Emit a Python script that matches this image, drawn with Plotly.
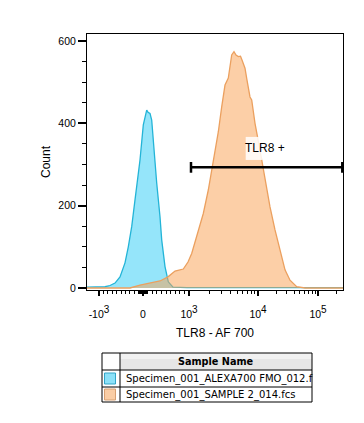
import numpy as np
import plotly.graph_objects as go

# ---------------- data (x in display channels 0..256 of the biexponential axis) ----------------
fmo_x = [0, 10, 18, 23, 28, 33, 38, 41.3, 44.7, 48, 53, 56.3, 59.7, 61, 63, 64.7, 66.3, 69.7, 73, 74.7, 78, 81.3, 86, 100, 256]
fmo_y = [2, 2, 3, 6, 12, 27, 61, 100, 149, 214, 311, 396, 432, 427, 424, 408, 352, 255, 173, 117, 52, 15, 2, 1, 1]

smp_x = [0, 43, 53, 63, 73, 81, 88, 96.3, 101, 104.7, 109.7, 116.3, 121.3, 126.3, 131.3, 134.7, 138, 141.3,
         143, 144.7, 147, 149, 151.3, 153.5, 155, 158, 160, 161.3, 163, 164.7, 168, 173, 178, 183, 188,
         193, 198, 203, 209.7, 218, 256]
smp_y = [0, 0, 7, 12, 17, 27, 41, 46, 63, 84, 125, 181, 238, 311, 379, 440, 493, 510,
         546, 566, 574, 566, 562, 563, 554, 534, 505, 485, 464, 457, 400, 335, 262, 197, 141,
         92, 44, 19, 3, 0, 0]

sample_names = ["Specimen_001_ALEXA700 FMO_012.f", "Specimen_001_SAMPLE 2_014.fcs"]
major_vals = [-1e3, 0, 1e3, 1e4, 1e5]
major_base = ["-10", "0", "10", "10", "10"]
major_exp = ["3", "", "3", "4", "5"]
minor_vals = ([-900 + 100 * i for i in range(9)] + [-80, -60, -40, -20, 20, 40, 60, 80]
              + [100 * i for i in range(1, 10)] + [1e3 * i for i in range(2, 10)]
              + [1e4 * i for i in range(2, 10)] + [2e5])
y_major = [0, 200, 400, 600]
gate_name = "TLR8 +"
gate_count = 293
gate_start = 104  # channel


def to_channel(v):
    """Biexponential-like display transform (value -> channel)."""
    v = float(v)
    if v < 0 and v >= -1000:
        return 56 + v / 1000 * 44
    if 0 <= v <= 1000:
        return 56 + v / 1000 * 46
    if v < -1000:
        return 12 - 60 * np.log10(-v / 1000)
    if v <= 1e4:
        return 102 + 69 * np.log10(v / 1e3)
    return 171 + 60 * np.log10(v / 1e4)


def tick_label(b, e):
    if not e:
        return b
    return b + "<sup><span style='font-size:10px'>" + e + "</span></sup>"


fig = go.Figure()
fig.add_trace(go.Scatter(x=fmo_x, y=fmo_y, mode="lines", fill="tozeroy",
                         line=dict(color="rgb(35,180,215)", width=1.3),
                         fillcolor="rgba(30,200,245,0.47)", name=sample_names[0]))
fig.add_trace(go.Scatter(x=smp_x, y=smp_y, mode="lines", fill="tozeroy",
                         line=dict(color="rgb(235,160,95)", width=1.3),
                         fillcolor="rgba(250,160,80,0.5)", name=sample_names[1]))

# page body has an 8px margin: size the figure so the plot area lands on page px 87..343 x 34..290
OFF = 8
PL, PR, PT, PB = 87, 343, 34, 290
W, H = 364 - OFF, 423 - OFF
L, T = PL - OFF, PT - OFF
R = W - (PR - OFF)
B = H - (PB - OFF)
PW, PH = PR - PL, PB - PT


def px_x(px):
    return (px - PL) / PW


def px_y(py):
    return (PB - py) / PH


shapes = []
# gate
shapes.append(dict(type="line", xref="x", yref="y", x0=gate_start, x1=256, y0=gate_count, y1=gate_count,
                   line=dict(color="black", width=2.5)))
for gx in (gate_start, 255.3):
    shapes.append(dict(type="line", xref="x", yref="y", x0=gx, x1=gx, y0=gate_count - 13, y1=gate_count + 13,
                       line=dict(color="black", width=2.5)))
# label background
shapes.append(dict(type="rect", xref="x", yref="y", x0=158.7, x1=175.7, y0=311, y1=367,
                   fillcolor="rgba(255,255,255,0.85)", line=dict(width=0)))

# legend table
tl, tr, tt, tb = 102, 312, 353, 402
hb, r1b = 370, 387
colx = 120
shapes.append(dict(type="rect", xref="paper", yref="paper", x0=px_x(colx), x1=px_x(tr), y0=px_y(tt), y1=px_y(hb),
                   fillcolor="#e6e6e6", line=dict(width=0)))
shapes.append(dict(type="rect", xref="paper", yref="paper", x0=px_x(colx), x1=px_x(tr), y0=px_y(tt), y1=px_y(tt + 6),
                   fillcolor="#f1f1f1", line=dict(width=0)))
shapes.append(dict(type="rect", xref="paper", yref="paper", x0=px_x(tl), x1=px_x(tr), y0=px_y(tt), y1=px_y(tb),
                   fillcolor="rgba(0,0,0,0)", line=dict(color="black", width=1)))
for yy in (hb, r1b):
    shapes.append(dict(type="line", xref="paper", yref="paper", x0=px_x(tl), x1=px_x(tr), y0=px_y(yy), y1=px_y(yy),
                       line=dict(color="black", width=1)))
shapes.append(dict(type="line", xref="paper", yref="paper", x0=px_x(colx), x1=px_x(colx), y0=px_y(tt), y1=px_y(tb),
                   line=dict(color="black", width=1)))
sw = [("rgb(140,225,248)", "rgb(50,165,200)", 373, 384), ("rgb(250,205,165)", "rgb(215,160,115)", 389, 400)]
for fc, lc, y0, y1 in sw:
    shapes.append(dict(type="rect", xref="paper", yref="paper", x0=px_x(104.5), x1=px_x(115.5),
                       y0=px_y(y0), y1=px_y(y1), fillcolor=fc, line=dict(color=lc, width=1)))

ann = []
ann.append(dict(x=178.3, y=339, xref="x", yref="y", text=gate_name, showarrow=False,
                font=dict(family="Liberation Sans, Arial", size=12, color="black")))
ann.append(dict(x=px_x(215), y=px_y(333), xref="paper", yref="paper", text="TLR8 - AF 700", showarrow=False,
                font=dict(family="Liberation Sans, Arial", size=12, color="black"), yanchor="middle"))
ann.append(dict(x=px_x(46), y=px_y(162), xref="paper", yref="paper", text="Count", showarrow=False, textangle=-90,
                font=dict(family="Liberation Sans, Arial", size=12, color="black"), xanchor="center", yanchor="middle"))
ann.append(dict(x=px_x(216), y=px_y(361.5), xref="paper", yref="paper", text="<b>Sample Name</b>", showarrow=False,
                font=dict(family="DejaVu Sans", size=9.7, color="black"), yanchor="middle"))
for name, yy in zip(sample_names, (378.5, 394.5)):
    ann.append(dict(x=px_x(124), y=px_y(yy), xref="paper", yref="paper", text=name, showarrow=False,
                    xanchor="left", yanchor="middle",
                    font=dict(family="DejaVu Sans", size=10, color="black")))

tickfont = dict(family="Liberation Sans, Arial", size=10.5, color="black")
fig.update_layout(
    width=W, height=H, autosize=False,
    margin=dict(l=L, r=R, t=T, b=B, pad=0),
    paper_bgcolor="white", plot_bgcolor="white", showlegend=False,
    shapes=shapes, annotations=ann,
    xaxis=dict(range=[0, 256], showgrid=False, zeroline=False, showline=True, linecolor="black", linewidth=1,
               mirror=True, ticks="outside", ticklen=5, tickwidth=2, tickcolor="black",
               tickmode="array", tickvals=[to_channel(v) for v in major_vals],
               ticktext=[tick_label(b, e) for b, e in zip(major_base, major_exp)],
               tickfont=tickfont, ticklabelstandoff=9,
               minor=dict(tickmode="array", tickvals=[to_channel(v) for v in minor_vals], ticks="outside",
                          ticklen=3, tickwidth=1, tickcolor="black", showgrid=False)),
    yaxis=dict(range=[-4.9, 617], showgrid=False, zeroline=False, showline=True, linecolor="black", linewidth=1,
               mirror=True, ticks="outside", ticklen=8, tickwidth=2, tickcolor="black",
               tickmode="array", tickvals=y_major, tickfont=tickfont,
               minor=dict(dtick=50, tick0=0, ticks="outside", ticklen=4, tickwidth=1, tickcolor="black",
                          showgrid=False)),
)

fig.write_html("out.html")
